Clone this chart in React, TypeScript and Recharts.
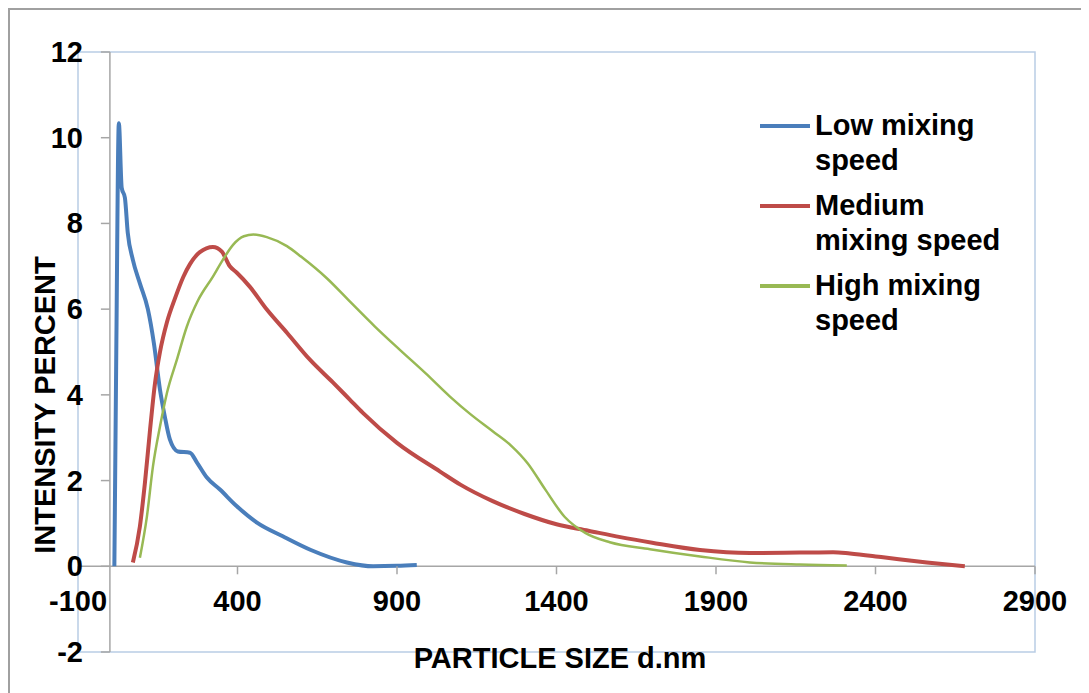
import React from "react"
import { LineChart, Line, XAxis, YAxis, ReferenceLine, ReferenceArea, Legend } from "recharts"

// particle size (d.nm) and intensity (%)
const lowSize = [14, 20, 28, 37, 47, 56, 72, 94, 119, 138, 157, 172, 188, 213, 251, 273, 304, 345, 398, 461, 542, 630, 743, 825, 900, 962]
const lowIntensity = [0, 5, 10.34, 8.83, 8.6, 7.78, 7.15, 6.6, 6.0, 5.2, 4.12, 3.5, 2.96, 2.68, 2.65, 2.42, 2.07, 1.79, 1.4, 1.02, 0.7, 0.38, 0.09, 0, 0.01, 0.03]

const mediumSize = [72, 94, 110, 125, 141, 157, 179, 204, 230, 251, 282, 323, 351, 376, 398, 439, 492, 555, 627, 699, 752, 793, 900, 1035, 1100, 1200, 1300, 1400, 1500, 1600, 1700, 1850, 2006, 2163, 2267, 2320, 2424, 2561, 2680]
const mediumIntensity = [0.09, 0.93, 1.96, 3.12, 4.25, 5.0, 5.7, 6.25, 6.75, 7.05, 7.33, 7.45, 7.34, 7.0, 6.85, 6.52, 5.99, 5.45, 4.82, 4.29, 3.89, 3.58, 2.88, 2.21, 1.9, 1.52, 1.22, 0.98, 0.83, 0.68, 0.55, 0.38, 0.31, 0.32, 0.33, 0.3, 0.21, 0.09, 0]

const highSize = [94, 116, 135, 157, 179, 210, 241, 276, 323, 354, 386, 420, 450, 492, 555, 600, 680, 752, 830, 909, 990, 1066, 1130, 1200, 1260, 1310, 1364, 1426, 1490, 1567, 1693, 1850, 2006, 2163, 2310]
const highIntensity = [0.2, 1.16, 2.33, 3.26, 4.05, 4.82, 5.59, 6.2, 6.76, 7.15, 7.5, 7.7, 7.74, 7.68, 7.47, 7.22, 6.72, 6.18, 5.6, 5.05, 4.5, 3.96, 3.55, 3.15, 2.8, 2.4, 1.8, 1.15, 0.78, 0.56, 0.4, 0.23, 0.09, 0.04, 0.02]

const seriesNames = ["Low mixing speed", "Medium mixing speed", "High mixing speed"]
const xTicks = [-100, 400, 900, 1400, 1900, 2400, 2900]
const yTicks = [-2, 0, 2, 4, 6, 8, 10, 12]

const toPoints = (xs: number[], ys: number[]) => xs.map((x, i) => ({ x, y: ys[i] }))

const W = 1073
const H = 683
const margin = { top: 42, right: 48, bottom: 40, left: 67 }
const X_MIN = -100
const X_MAX = 2900
const Y_MIN = -2
const Y_MAX = 12
const plotW = W - margin.left - 1 - margin.right
const plotH = H - margin.top - margin.bottom - 1
// the axes cross at 0, not at the plot edges
const zeroFromBottom = (plotH * (0 - Y_MIN)) / (Y_MAX - Y_MIN)
const zeroFromLeft = (plotW * (0 - X_MIN)) / (X_MAX - X_MIN)

const font = "'Liberation Sans', Arial, Helvetica, sans-serif"
const axisGray = "#a6a6a6"

const renderXTick = (props: any) => {
  const { x, y, payload } = props
  const axisY = y - zeroFromBottom
  return (
    <g>
      <line x1={x} x2={x} y1={axisY} y2={axisY + 8} stroke={axisGray} strokeWidth={1.5} />
      <text x={x} y={axisY + 35} textAnchor="middle" dominantBaseline="central"
        fontFamily={font} fontWeight="bold" fontSize={29} fill="#000">
        {payload.value}
      </text>
    </g>
  )
}

const renderYTick = (props: any) => {
  const { x, y, payload } = props
  const axisX = x + zeroFromLeft
  return (
    <g>
      <line x1={axisX - 9} x2={axisX} y1={y} y2={y} stroke={axisGray} strokeWidth={1.5} />
      <text x={x + 5} y={y} textAnchor="end" dominantBaseline="central"
        fontFamily={font} fontWeight="bold" fontSize={29} fill="#000">
        {payload.value}
      </text>
    </g>
  )
}

const renderLegend = (props: any) => {
  const items = [...(props.payload || [])].sort(
    (a: any, b: any) => seriesNames.indexOf(a.value) - seriesNames.indexOf(b.value)
  )
  return (
    <div style={{ fontFamily: font, fontWeight: "bold", fontSize: 29, color: "#000" }}>
      {items.map((entry: any, i: number) => (
        <div key={i} style={{ display: "flex", alignItems: "flex-start", marginBottom: 10 }}>
          <div style={{ width: 50, height: 4, background: entry.color, marginTop: 15.5, marginRight: 5, flex: "none" }} />
          <div style={{ width: 195, lineHeight: "35px" }}>{entry.value}</div>
        </div>
      ))}
    </div>
  )
}

export default function App() {
  return (
    <div style={{ position: "relative", width: W, height: 690, border: "2px solid #a0a0a0", background: "#fff", overflow: "hidden" }}>
      <LineChart width={W} height={H} margin={margin}>
        <XAxis type="number" dataKey="x" domain={[X_MIN, X_MAX]} ticks={xTicks} interval={0}
          allowDataOverflow height={1} axisLine={false} tickLine={false} tickSize={0} tickMargin={0} tick={renderXTick} />
        <YAxis type="number" dataKey="y" domain={[Y_MIN, Y_MAX]} ticks={yTicks} interval={0}
          allowDataOverflow width={1} axisLine={false} tickLine={false} tickSize={0} tickMargin={0} tick={renderYTick} />
        <ReferenceArea x1={X_MIN} x2={X_MAX} y1={Y_MIN} y2={Y_MAX} fill="none" fillOpacity={0} stroke="#b9cde5" strokeWidth={1.5} />
        <ReferenceLine x={0} stroke={axisGray} strokeWidth={1.5} />
        <ReferenceLine y={0} stroke={axisGray} strokeWidth={1.5} />
        <Line data={toPoints(lowSize, lowIntensity)} dataKey="y" name={seriesNames[0]} type="monotone"
          stroke="#4a7ebb" strokeWidth={4} dot={false} isAnimationActive={false} />
        <Line data={toPoints(mediumSize, mediumIntensity)} dataKey="y" name={seriesNames[1]} type="monotone"
          stroke="#be4b48" strokeWidth={4} dot={false} isAnimationActive={false} />
        <Line data={toPoints(highSize, highIntensity)} dataKey="y" name={seriesNames[2]} type="monotone"
          stroke="#98b954" strokeWidth={2.5} dot={false} isAnimationActive={false} />
        <Legend layout="vertical" align="center" verticalAlign="middle" content={renderLegend}
          wrapperStyle={{ left: 750, top: 98, width: 280 }} />
      </LineChart>
      <div style={{ position: "absolute", left: 350, top: 632, width: 400, textAlign: "center",
        fontFamily: font, fontWeight: "bold", fontSize: 29, lineHeight: "32px" }}>
        PARTICLE SIZE d.nm
      </div>
      <div style={{ position: "absolute", left: 35, top: 395, transform: "translate(-50%, -50%) rotate(-90deg)",
        whiteSpace: "nowrap", fontFamily: font, fontWeight: "bold", fontSize: 29, lineHeight: "32px" }}>
        INTENSITY PERCENT
      </div>
    </div>
  )
}
